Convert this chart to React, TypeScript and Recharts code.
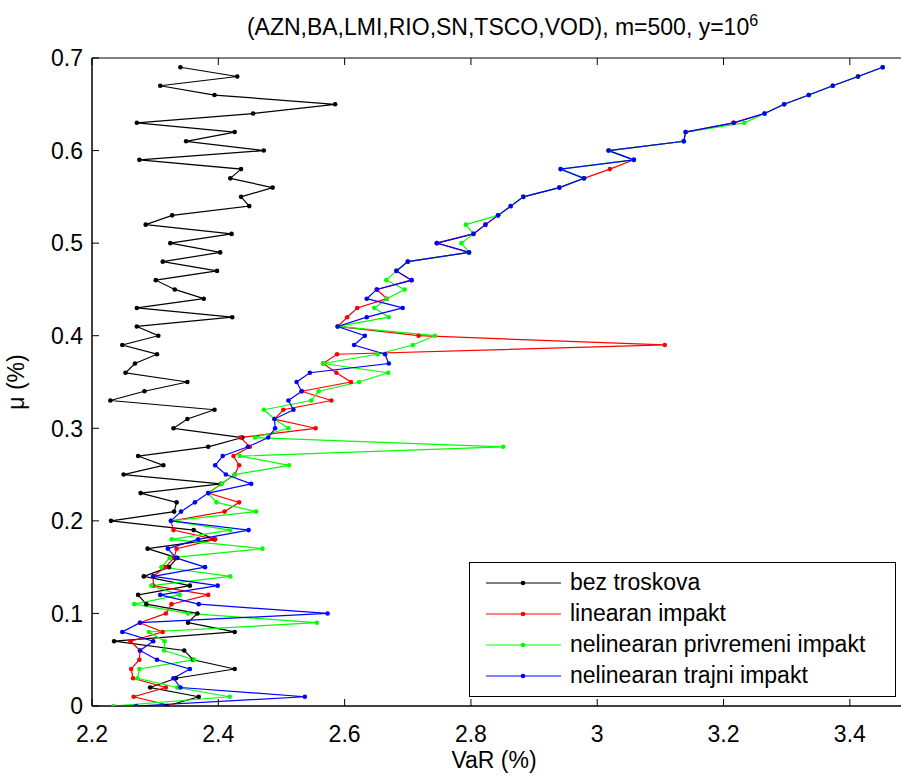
import { LineChart, Line, XAxis, YAxis, ReferenceArea, Legend } from "recharts";

// μ (%) levels – one point per level in every series
const MU = [
  0, 0.01, 0.02, 0.03, 0.04, 0.05, 0.06, 0.07, 0.08, 0.09,
  0.1, 0.11, 0.12, 0.13, 0.14, 0.15, 0.16, 0.17, 0.18, 0.19,
  0.2, 0.21, 0.22, 0.23, 0.24, 0.25, 0.26, 0.27, 0.28, 0.29,
  0.3, 0.31, 0.32, 0.33, 0.34, 0.35, 0.36, 0.37, 0.38, 0.39,
  0.4, 0.41, 0.42, 0.43, 0.44, 0.45, 0.46, 0.47, 0.48, 0.49,
  0.5, 0.51, 0.52, 0.53, 0.54, 0.55, 0.56, 0.57, 0.58, 0.59,
  0.6, 0.61, 0.62, 0.63, 0.64, 0.65, 0.66, 0.67, 0.68, 0.69,
];

// VaR (%) per series
const BEZ_TROSKOVA = [
  2.318, 2.369, 2.292, 2.333, 2.426, 2.36, 2.346, 2.235, 2.426, 2.352,
  2.367, 2.286, 2.273, 2.355, 2.282, 2.322, 2.335, 2.288, 2.394, 2.361,
  2.23, 2.33, 2.334, 2.277, 2.404, 2.25, 2.313, 2.273, 2.384, 2.438,
  2.329, 2.351, 2.394, 2.229, 2.283, 2.351, 2.253, 2.268, 2.303, 2.248,
  2.305, 2.271, 2.422, 2.271, 2.377, 2.331, 2.301, 2.398, 2.312, 2.403,
  2.324, 2.421, 2.285, 2.327, 2.449, 2.436, 2.486, 2.419, 2.436, 2.275,
  2.472, 2.349, 2.426, 2.271, 2.455, 2.585, 2.394, 2.308, 2.43, 2.34,
];

const LINEARAN = [
  2.327, 2.266, 2.317, 2.265, 2.262, 2.275, 2.276, 2.261, 2.312, 2.276,
  2.317, 2.326, 2.384, 2.297, 2.297, 2.316, 2.33, 2.334, 2.395, 2.329,
  2.325, 2.41, 2.433, 2.384, 2.405, 2.426, 2.433, 2.424, 2.45, 2.435,
  2.554, 2.489, 2.503, 2.579, 2.532, 2.61, 2.587, 2.566, 2.588, 3.107,
  2.717, 2.589, 2.604, 2.62, 2.667, 2.651, 2.706, 2.682, 2.7, 2.797,
  2.746, 2.804, 2.823, 2.843, 2.863, 2.883, 2.94, 2.979, 3.02, 3.058,
  3.018, 3.137, 3.14, 3.216, 3.265, 3.296, 3.335, 3.373, 3.413, 3.452,
];

const NELIN_PRIVREMENI = [
  2.234, 2.418, 2.335, 2.272, 2.275, 2.362, 2.314, 2.315, 2.29, 2.556,
  2.352, 2.267, 2.339, 2.294, 2.419, 2.31, 2.323, 2.47, 2.326, 2.419,
  2.325, 2.46, 2.397, 2.384, 2.405, 2.426, 2.512, 2.434, 2.851, 2.458,
  2.511, 2.489, 2.472, 2.547, 2.559, 2.623, 2.669, 2.566, 2.652, 2.708,
  2.743, 2.589, 2.67, 2.647, 2.667, 2.695, 2.666, 2.682, 2.7, 2.797,
  2.785, 2.804, 2.792, 2.843, 2.863, 2.883, 2.94, 2.979, 2.942, 3.058,
  3.018, 3.137, 3.14, 3.233, 3.265, 3.296, 3.335, 3.373, 3.413, 3.452,
];

const NELIN_TRAJNI = [
  2.27, 2.537, 2.34, 2.329, 2.355, 2.303, 2.276, 2.297, 2.248, 2.276,
  2.573, 2.369, 2.308, 2.399, 2.297, 2.379, 2.333, 2.32, 2.368, 2.448,
  2.325, 2.341, 2.363, 2.384, 2.452, 2.412, 2.395, 2.407, 2.447, 2.479,
  2.49, 2.489, 2.519, 2.511, 2.532, 2.524, 2.545, 2.67, 2.664, 2.615,
  2.632, 2.589, 2.635, 2.692, 2.635, 2.651, 2.706, 2.682, 2.7, 2.797,
  2.746, 2.804, 2.823, 2.843, 2.863, 2.883, 2.94, 2.979, 2.942, 3.058,
  3.018, 3.137, 3.14, 3.216, 3.265, 3.296, 3.335, 3.373, 3.413, 3.452,
];

const X_TICKS = [2.2, 2.4, 2.6, 2.8, 3, 3.2, 3.4];
const Y_TICKS = [0, 0.1, 0.2, 0.3, 0.4, 0.5, 0.6, 0.7];

const data = MU.map((mu, i) => ({
  mu,
  bez: BEZ_TROSKOVA[i],
  lin: LINEARAN[i],
  privr: NELIN_PRIVREMENI[i],
  trajni: NELIN_TRAJNI[i],
}));

const FONT = '"Liberation Sans", Arial, Helvetica, sans-serif';
const FONT_SIZE = 23;
const PLOT_TOP = 58;
const TICK_LEN = 7;

const XTick = ({ x, y, payload }: any) => (
  <g>
    <line x1={x} x2={x} y1={y} y2={y - TICK_LEN} stroke="#000" />
    <line x1={x} x2={x} y1={PLOT_TOP} y2={PLOT_TOP + TICK_LEN} stroke="#000" />
    <text x={x} y={y + 36} textAnchor="middle" fontSize={FONT_SIZE} fontFamily={FONT} fill="#000">
      {String(payload.value)}
    </text>
  </g>
);

const YTick = ({ x, y, payload }: any) => (
  <g>
    <line x1={x} x2={x + TICK_LEN} y1={y} y2={y} stroke="#000" />
    <text x={x - 9} y={y} dy="0.36em" textAnchor="end" fontSize={FONT_SIZE} fontFamily={FONT} fill="#000">
      {String(payload.value)}
    </text>
  </g>
);

const LegendBox = ({ payload }: any) => (
  <div
    style={{
      width: 425,
      height: 129,
      border: "1px solid #000",
      background: "#fff",
      boxSizing: "content-box",
      paddingTop: 4,
      fontFamily: FONT,
      fontSize: FONT_SIZE,
    }}
  >
    {(payload || []).map((entry: any) => (
      <div key={entry.value} style={{ display: "flex", alignItems: "center", height: 31 }}>
        <svg width={100} height={31} style={{ flex: "none" }}>
          <line x1={16} x2={91} y1={16} y2={16} stroke={entry.color} strokeWidth={1.2} />
          <circle cx={53} cy={16} r={2.3} fill={entry.color} />
        </svg>
        <span style={{ whiteSpace: "nowrap", color: "#000" }}>{entry.value}</span>
      </div>
    ))}
  </div>
);

const series = [
  { key: "bez", name: "bez troskova", color: "#000000" },
  { key: "lin", name: "linearan impakt", color: "#ff0000" },
  { key: "privr", name: "nelinearan privremeni impakt", color: "#00ff00" },
  { key: "trajni", name: "nelinearan trajni impakt", color: "#0000ff" },
];

export default function App() {
  return (
    <div
      style={{
        position: "absolute",
        left: 0,
        top: 0,
        width: 901,
        height: 776,
        overflow: "hidden",
        background: "#fff",
      }}
    >
      <div
        style={{
          position: "absolute",
          left: 0,
          top: 12,
          width: 1005,
          textAlign: "center",
          fontFamily: FONT,
          fontSize: FONT_SIZE,
          lineHeight: "30px",
          color: "#000",
        }}
      >
        (AZN,BA,LMI,RIO,SN,TSCO,VOD), m=500, y=10
        <sup style={{ fontSize: 16, verticalAlign: "9px", lineHeight: 0 }}>6</sup>
      </div>
      <LineChart
        layout="vertical"
        width={930}
        height={776}
        data={data}
        margin={{ top: PLOT_TOP, right: 17, bottom: 40, left: 0 }}
        style={{ position: "absolute", left: 0, top: 0 }}
      >
        <XAxis
          type="number"
          domain={[2.2, 3.5]}
          ticks={X_TICKS}
          interval={0}
          allowDataOverflow
          height={30}
          tickSize={0}
          tickMargin={0}
          tick={<XTick />}
          axisLine={{ stroke: "#000" }}
          label={{
            content: () => (
              <text x={494} y={768} textAnchor="middle" fontSize={FONT_SIZE} fontFamily={FONT} fill="#000">
                VaR (%)
              </text>
            ),
          }}
        />
        <YAxis
          type="number"
          dataKey="mu"
          domain={[0, 0.7]}
          ticks={Y_TICKS}
          interval={0}
          reversed
          allowDataOverflow
          width={92}
          tickSize={0}
          tickMargin={0}
          tick={<YTick />}
          axisLine={{ stroke: "#000" }}
          label={{
            content: () => (
              <text
                x={24}
                y={382}
                textAnchor="middle"
                fontSize={FONT_SIZE}
                fontFamily={FONT}
                fill="#000"
                transform="rotate(-90, 24, 382)"
              >
                μ (%)
              </text>
            ),
          }}
        />
        <ReferenceArea
          x1={2.2}
          x2={3.5}
          y1={0}
          y2={0.7}
          fill="none"
          fillOpacity={0}
          stroke="#000"
          strokeWidth={1}
          ifOverflow="visible"
        />
        {series.map((s) => (
          <Line
            key={s.key}
            type="linear"
            dataKey={s.key}
            name={s.name}
            stroke={s.color}
            strokeWidth={1.2}
            dot={{ r: 2.3, fill: s.color, stroke: s.color, strokeWidth: 0 }}
            activeDot={false}
            isAnimationActive={false}
          />
        ))}
        <Legend
          layout="vertical"
          align="center"
          verticalAlign="middle"
          wrapperStyle={{ left: 469, top: 562, width: 427 }}
          content={<LegendBox />}
        />
      </LineChart>
    </div>
  );
}
